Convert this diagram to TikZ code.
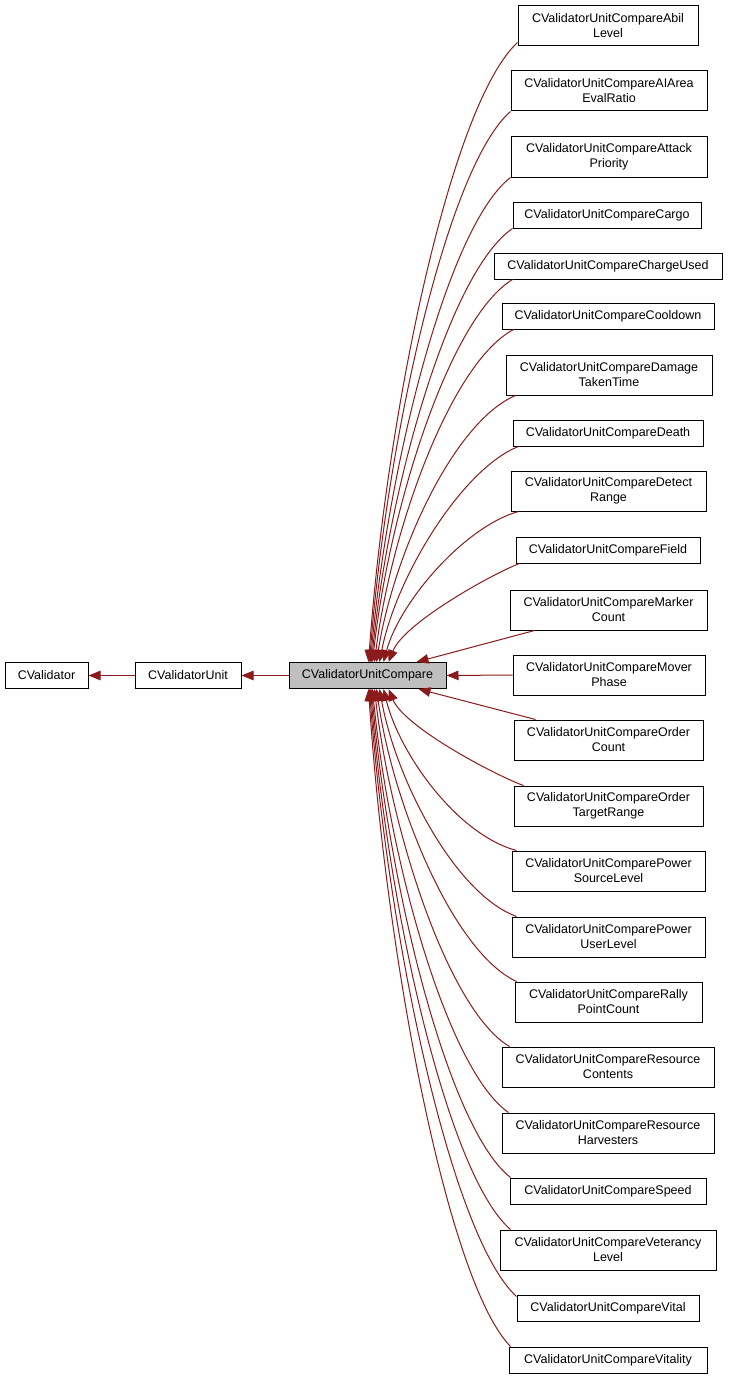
\documentclass[tikz,border=0pt]{standalone}
\usepackage{fontspec}
\setmainfont{Liberation Sans}
\usetikzlibrary{arrows.meta,calc}
\definecolor{edgered}{RGB}{139,26,26}
\definecolor{boxgray}{RGB}{191,191,191}
\tikzset{
  cls/.style={draw=black, line width=1pt, fill=white, inner sep=0pt, align=center,
    font=\fontsize{12.5}{15}\selectfont, minimum height=26pt},
  cls2/.style={cls, minimum height=40pt},
  edge/.style={draw=edgered, line width=1pt, -{Triangle[length=12pt,width=9.5pt]}, edgered},
}
\newcommand{\myedge}[3][0.45]{%
  \draw[edge] let \p1=(#2), \p2=(#3) in
    (\p1) .. controls ({\x1-#1*(\x1-\x2)},{\y1+0.1*(\y2-\y1)}) and ({\x2+0.12*(\x1-\x2)},{\y2-0.4*(\y2-\y1)}) .. (\p2);}
\begin{document}
\begin{tikzpicture}[x=1pt,y=-1pt]
\useasboundingbox (0,0) rectangle (728,1378);
\node[cls, minimum width=83pt] (cv) at (46.5,675.5) {CValidator};
\node[cls, minimum width=106pt] (cvu) at (188,675.5) {CValidatorUnit};
\node[cls, minimum width=157pt, fill=boxgray] (cmp) at (367.5,675.5) {CValidatorUnitCompare};

\node[cls2, minimum width=180pt] (n1) at (608,26) {CValidatorUnitCompareAbil\\Level};
\node[cls2, minimum width=196pt] (n2) at (609,91) {CValidatorUnitCompareAIArea\\EvalRatio};
\node[cls2, minimum width=196pt] (n3) at (609,157) {CValidatorUnitCompareAttack\\Priority};
\node[cls, minimum width=188pt] (n4) at (607,215) {CValidatorUnitCompareCargo};
\node[cls, minimum width=228pt] (n5) at (608,266) {CValidatorUnitCompareChargeUsed};
\node[cls, minimum width=212pt] (n6) at (608,316) {CValidatorUnitCompareCooldown};
\node[cls2, minimum width=206pt] (n7) at (609,375) {CValidatorUnitCompareDamage\\TakenTime};
\node[cls, minimum width=190pt] (n8) at (608,433) {CValidatorUnitCompareDeath};
\node[cls2, minimum width=195pt] (n9) at (608.5,491) {CValidatorUnitCompareDetect\\Range};
\node[cls, minimum width=184pt] (n10) at (608,550) {CValidatorUnitCompareField};
\node[cls2, minimum width=197pt] (n11) at (608.5,610) {CValidatorUnitCompareMarker\\Count};
\node[cls2, minimum width=192pt] (n12) at (609,675) {CValidatorUnitCompareMover\\Phase};
\node[cls2, minimum width=189pt] (n13) at (608.5,740) {CValidatorUnitCompareOrder\\Count};
\node[cls2, minimum width=189pt] (n14) at (608.5,806) {CValidatorUnitCompareOrder\\TargetRange};
\node[cls2, minimum width=193pt] (n15) at (608.5,871) {CValidatorUnitComparePower\\SourceLevel};
\node[cls2, minimum width=193pt] (n16) at (608.5,937) {CValidatorUnitComparePower\\UserLevel};
\node[cls2, minimum width=187pt] (n17) at (608.5,1002) {CValidatorUnitCompareRally\\PointCount};
\node[cls2, minimum width=212pt] (n18) at (608,1067) {CValidatorUnitCompareResource\\Contents};
\node[cls2, minimum width=212pt] (n19) at (608,1133) {CValidatorUnitCompareResource\\Harvesters};
\node[cls, minimum width=196pt] (n20) at (608,1191) {CValidatorUnitCompareSpeed};
\node[cls2, minimum width=216pt] (n21) at (608,1250) {CValidatorUnitCompareVeterancy\\Level};
\node[cls, minimum width=182pt] (n22) at (608,1308) {CValidatorUnitCompareVital};
\node[cls, minimum width=198pt] (n23) at (608,1360) {CValidatorUnitCompareVitality};

% inheritance chain
\draw[edge] (cvu.west) -- (cv.east);
\draw[edge] (cmp.west) -- (cvu.east);

% upper derived classes
\myedge{[yshift=4pt]n1.south west}{[xshift=80pt]cmp.north west}
\myedge{n2.south west}{[xshift=81pt]cmp.north west}
\myedge{n3.south west}{[xshift=82pt]cmp.north west}
\myedge{n4.south west}{[xshift=83pt]cmp.north west}
\myedge{[xshift=19pt]n5.south west}{[xshift=84pt]cmp.north west}
\myedge{[xshift=12pt]n6.south west}{[xshift=86pt]cmp.north west}
\myedge{[xshift=10pt]n7.south west}{[xshift=88pt]cmp.north west}
\myedge[0.4]{[xshift=6pt]n8.south west}{[xshift=91pt]cmp.north west}
\myedge[0.4]{[xshift=8pt]n9.south west}{[xshift=95pt]cmp.north west}
\myedge[0.2]{[xshift=4pt]n10.south west}{[xshift=100pt]cmp.north west}
\draw[edge] ([xshift=25pt]n11.south west) -- ([xshift=128pt]cmp.north west);
\draw[edge] (n12.west) -- (cmp.east);
\draw[edge] ([xshift=22pt]n13.north west) -- ([xshift=130pt]cmp.south west);

% lower derived classes
\myedge[0.2]{[xshift=10pt]n14.north west}{[xshift=100pt]cmp.south west}
\myedge{[xshift=5pt]n15.north west}{[xshift=95pt]cmp.south west}
\myedge{[xshift=5pt]n16.north west}{[xshift=91pt]cmp.south west}
\myedge{[xshift=2pt]n17.north west}{[xshift=88pt]cmp.south west}
\myedge{[xshift=8pt]n18.north west}{[xshift=86pt]cmp.south west}
\myedge{[xshift=7pt]n19.north west}{[xshift=84pt]cmp.south west}
\myedge{[xshift=1pt]n20.north west}{[xshift=83pt]cmp.south west}
\myedge{[xshift=11pt]n21.north west}{[xshift=82pt]cmp.south west}
\myedge{[yshift=-2pt]n22.north west}{[xshift=81pt]cmp.south west}
\myedge{[xshift=2pt]n23.north west}{[xshift=80pt]cmp.south west}
\end{tikzpicture}
\end{document}
